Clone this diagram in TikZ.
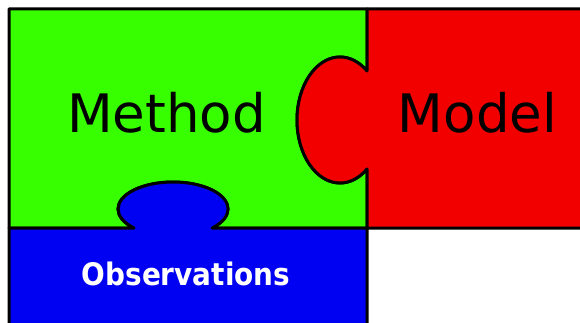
\documentclass[tikz,border=0pt]{standalone}
\usepackage{fontspec}
\setmainfont{DejaVu Sans}
\newfontfamily\obsfont[FakeStretch=0.9]{DejaVu Sans}
\usetikzlibrary{positioning}
\definecolor{pzgreen}{RGB}{56,255,0}
\definecolor{pzred}{RGB}{242,0,0}
\definecolor{pzblue}{RGB}{0,0,242}
\tikzset{
  piece/.style={draw=black,line width=3pt,line join=round},
  bigword/.style={anchor=base,font=\fontsize{53}{60}\selectfont,text=black},
  smallword/.style={anchor=base,font=\obsfont\bfseries\fontsize{31}{36}\selectfont,text=white}
}

\begin{document}
\begin{tikzpicture}[x=1pt,y=-1pt]
    \useasboundingbox (0,0) rectangle (580,323);
    \clip (0,0) rectangle (580,323);
    % green piece with a notch on the right and one at the bottom
    \draw[piece, fill=pzgreen] (9,9) -- (367,9) -- (367,71)
        arc[start angle=-51.1, end angle=-308.9, x radius=43, y radius=63]
        -- (367,228) -- (212,228)
        arc[start angle=44.7, end angle=-224.7, x radius=55, y radius=27]
        -- (9,228) -- cycle;
    % red piece, its knob goes into the green one
    \draw[piece, fill=pzred] (367,228) -- (367,169)
        arc[start angle=51.1, end angle=308.9, x radius=43, y radius=63]
        -- (367,9) -- (600,9) -- (600,228) -- cycle;
    % blue piece, knob going up
    \draw[piece, fill=pzblue] (9,228) -- (134,228)
        arc[start angle=135.3, end angle=404.7, x radius=55, y radius=27]
        -- (367,228) -- (367,340) -- (9,340) -- cycle;

    \node[bigword] at (166.5,133) (method) {Method};
    \node[bigword] at (477.5,133) (model) {Model};
    \node[smallword] at (186,285) (obs) {Observations};
\end{tikzpicture}
\end{document}
